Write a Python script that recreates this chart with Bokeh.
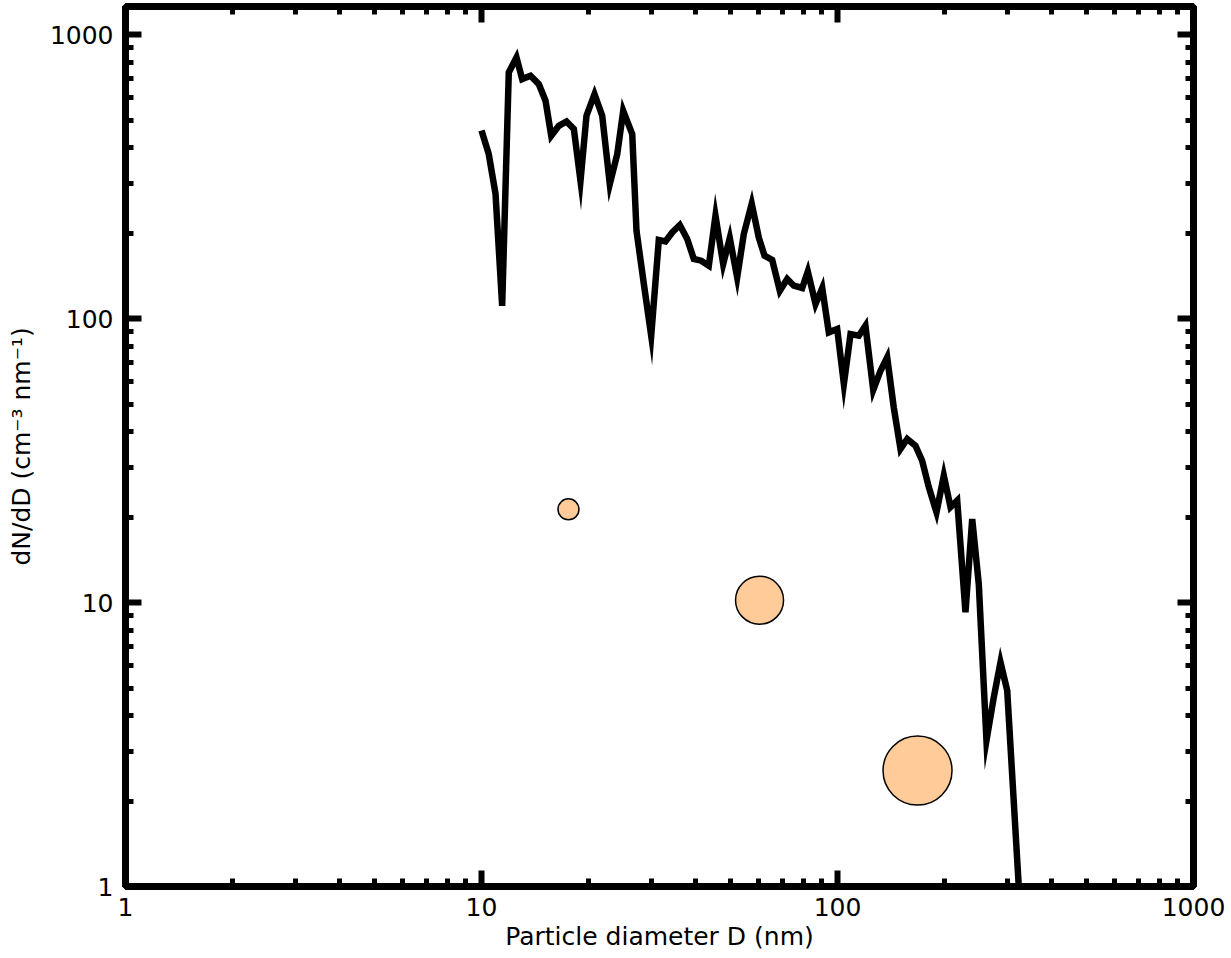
from bokeh.plotting import figure
from bokeh.models import Range1d, LogAxis, FixedTicker, PrintfTickFormatter
from bokeh.embed import file_html
from bokeh.resources import INLINE

# ---- data ----
diameter_nm = [10.0, 10.48, 10.95, 11.43, 11.93, 12.54, 13.01, 13.73, 14.49, 15.13,
               15.70, 16.49, 17.33, 18.17, 18.97, 19.72, 20.77, 21.83, 22.93, 24.06,
               25.01, 26.51, 27.25, 28.58, 29.97, 31.48, 32.87, 34.33, 36.06, 37.83,
               39.48, 41.41, 43.50, 45.42, 47.74, 49.82, 52.26, 54.55, 57.42, 60.12,
               62.37, 65.55, 68.86, 72.23, 75.38, 79.58, 82.52, 86.76, 90.60, 94.53,
               99.81, 104.2, 108.8, 114.8, 119.8, 126.0, 132.1, 137.9, 143.9, 150.3,
               157.0, 165.6, 172.9, 180.5, 189.7, 198.9, 207.7, 216.9, 228.8, 239.0,
               249.4, 262.1, 274.8, 287.0, 299.7, 326.6]
dNdD = [460, 380, 275, 111, 737, 832, 698, 717, 670, 586,
        441, 478, 495, 466, 306, 519, 618, 519, 298, 380,
        540, 447, 204, 132.5, 87.1, 189.3, 187.2, 201.3, 213.8, 190.8,
        162.3, 160.1, 153.7, 230.5, 155.8, 192.4, 139.8, 198.7, 254.1, 192.9,
        166.7, 161.0, 125.5, 138.0, 130.7, 128.3, 146.7, 112.7, 128.3, 89.5,
        92.0, 58.9, 88.3, 87.1, 94.5, 56.1, 65.6, 73.1, 48.7, 34.8,
        37.7, 35.7, 31.6, 25.5, 20.8, 28.0, 21.7, 22.9, 9.24, 19.7,
        11.6, 3.27, 4.64, 6.16, 4.90, 0.79]

circle_diameter_nm = [17.55, 60.4, 167.8]
circle_dNdD = [21.3, 10.2, 2.56]
circle_marker_px = [21, 48, 69]

x_major_ticks = [1, 10, 100, 1000]
y_major_ticks = [1, 10, 100, 1000]
minor_ticks = [m * 10 ** e for e in range(3) for m in range(2, 10)]

X_RANGE = (1, 1000)
Y_RANGE = (1, 1258)

FONT = "DejaVu Sans"

p = figure(width=1231, height=958,
           x_axis_type="log", y_axis_type="log",
           x_range=Range1d(*X_RANGE), y_range=Range1d(*Y_RANGE),
           min_border_left=125, min_border_right=38,
           min_border_top=6, min_border_bottom=72,
           output_backend="svg", toolbar_location=None)

p.background_fill_color = "white"
p.border_fill_color = "white"
p.outline_line_color = "black"
p.outline_line_width = 7
p.xgrid.visible = False
p.ygrid.visible = False


def style_axis(ax, ticks, show_labels):
    ax.ticker = FixedTicker(ticks=ticks, minor_ticks=minor_ticks)
    ax.axis_line_color = "black"
    ax.axis_line_width = 7
    ax.major_tick_in = 16
    ax.major_tick_out = 0
    ax.minor_tick_in = 8
    ax.minor_tick_out = 0
    ax.major_tick_line_width = 6
    ax.minor_tick_line_width = 5
    ax.major_tick_line_color = "black"
    ax.minor_tick_line_color = "black"
    ax.major_tick_line_cap = "butt"
    ax.minor_tick_line_cap = "butt"
    ax.formatter = PrintfTickFormatter(format="%d")
    if show_labels:
        ax.major_label_text_font = FONT
        ax.major_label_text_font_size = "25px"
        ax.major_label_text_color = "black"
        ax.axis_label_text_font = FONT
        ax.axis_label_text_font_size = "25px"
        ax.axis_label_text_font_style = "normal"
        ax.axis_label_text_color = "black"
    else:
        ax.major_label_text_font_size = "1px"
        ax.major_label_text_color = None
        ax.major_label_standoff = 0


xa = p.xaxis[0]
ya = p.yaxis[0]
style_axis(xa, x_major_ticks, True)
style_axis(ya, y_major_ticks, True)
xa.axis_label = "Particle diameter D (nm)"
ya.axis_label = "dN/dD (cm\u207b\u00b3 nm\u207b\u00b9)"
xa.major_label_standoff = 11
xa.axis_label_standoff = 3
ya.major_label_standoff = 12
ya.axis_label_standoff = 11

top_ax = LogAxis()
right_ax = LogAxis()
style_axis(top_ax, x_major_ticks, False)
style_axis(right_ax, y_major_ticks, False)
p.add_layout(top_ax, "above")
p.add_layout(right_ax, "right")

p.line(diameter_nm, dNdD, line_color="black", line_width=6.5, line_join="miter")
p.scatter(circle_diameter_nm, circle_dNdD, size=circle_marker_px, marker="circle",
          fill_color="#FFCC99", line_color="black", line_width=1.5)

open("out.html", "w").write(file_html(p, INLINE))
